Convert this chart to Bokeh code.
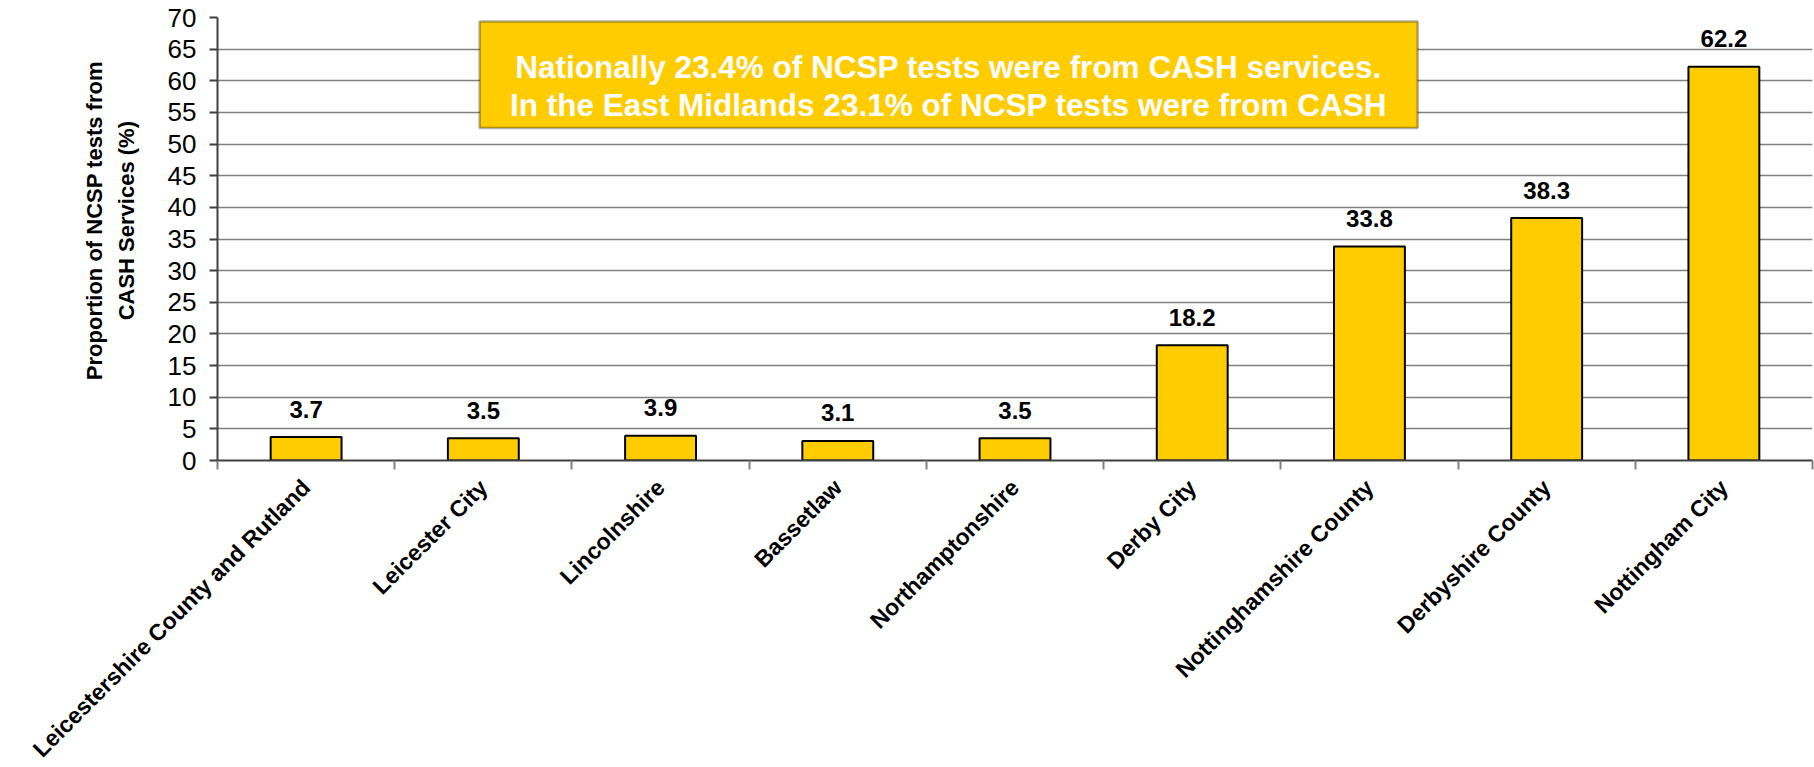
import math
from bokeh.plotting import figure
from bokeh.models import (Range1d, FixedTicker, ColumnDataSource, BoxAnnotation, Label)
from bokeh.embed import file_html
from bokeh.resources import INLINE

# ---- data ----
categories = ["Leicestershire County and Rutland", "Leicester City", "Lincolnshire",
              "Bassetlaw", "Northamptonshire", "Derby City", "Nottinghamshire County",
              "Derbyshire County", "Nottingham City"]
values = [3.7, 3.5, 3.9, 3.1, 3.5, 18.2, 33.8, 38.3, 62.2]
y_ticks = list(range(0, 75, 5))
y_label_lines = ["Proportion of NCSP tests from", "CASH Services (%)"]
note_lines = ["Nationally 23.4% of NCSP tests were from CASH services.",
              "In the East Midlands 23.1% of NCSP tests were from CASH"]

FONT = "Liberation Sans"
BAR = "#FFCC00"
NB = "\u00a0" * 6  # nudges the axis title upward, as in the original

n = len(categories)
xpos = [i + 0.5 for i in range(n)]
src = ColumnDataSource(dict(x=xpos, top=values, label=[f"{v:.1f}" for v in values]))

p = figure(frame_width=1595, frame_height=443, output_backend="svg", toolbar_location=None,
           x_range=Range1d(0, n), y_range=Range1d(0, 70),
           min_border_left=217, min_border_right=2, min_border_top=17, min_border_bottom=0)
p.outline_line_color = None
p.background_fill_color = "white"

# bars
p.vbar(x="x", top="top", bottom=0, width=0.4, source=src,
       fill_color=BAR, line_color="black", line_width=2)

# value labels
p.text(x="x", y="top", text="label", source=src, y_offset=-28,
       text_align="center", text_baseline="middle",
       text_font={"value": FONT}, text_font_style="bold", text_font_size="24px",
       text_color="black")

# y axis
yax = p.yaxis[0]
yax.ticker = FixedTicker(ticks=y_ticks)
yax.axis_line_color = "#404040"
yax.axis_line_width = 2
yax.major_tick_line_color = "#404040"
yax.major_tick_line_width = 2
yax.major_tick_in = 0
yax.major_tick_out = 8
yax.minor_tick_line_color = None
yax.major_label_text_font = FONT
yax.major_label_text_font_size = "26px"
yax.major_label_text_color = "black"
yax.major_label_standoff = 13
yax.axis_label = "\n".join(NB + s for s in y_label_lines)
yax.axis_label_text_font = FONT
yax.axis_label_text_font_style = "bold"
yax.axis_label_text_font_size = "22px"
yax.axis_label_text_color = "black"
yax.axis_label_text_line_height = 1.28
yax.axis_label_standoff = 26

# x axis: labels at centres, ticks at category boundaries
xax = p.xaxis[0]
xax.ticker = FixedTicker(ticks=xpos, minor_ticks=list(range(0, n + 1)))
xax.major_label_overrides = {x: c for x, c in zip(xpos, categories)}
xax.major_tick_line_color = None
xax.minor_tick_line_color = "#808080"
xax.minor_tick_line_width = 2
xax.minor_tick_in = 0
xax.minor_tick_out = 9
xax.axis_line_color = "#404040"
xax.axis_line_width = 2
xax.major_label_orientation = math.pi / 4
xax.major_label_text_font = FONT
xax.major_label_text_font_style = "bold"
xax.major_label_text_font_size = "23px"
xax.major_label_text_color = "black"
xax.major_label_standoff = 14

# grid
p.xgrid.grid_line_color = None
p.ygrid.ticker = FixedTicker(ticks=y_ticks)
p.ygrid.grid_line_color = "#808080"
p.ygrid.grid_line_width = 1.5

# note box
box = BoxAnnotation(left=1.479, right=6.772, bottom=52.54, top=69.37,
                    fill_color=BAR, fill_alpha=1.0, line_color="black", line_width=2.5,
                    level="annotation")
p.add_layout(box)
for txt, yy in zip(note_lines, [62.1, 56.1]):
    p.add_layout(Label(x=4.125, y=yy, text=txt, text_align="center",
                       text_baseline="alphabetic", text_font=FONT,
                       text_font_style="bold", text_font_size="31.5px",
                       text_color="white"))

open("out.html", "w").write(file_html(p, INLINE))
